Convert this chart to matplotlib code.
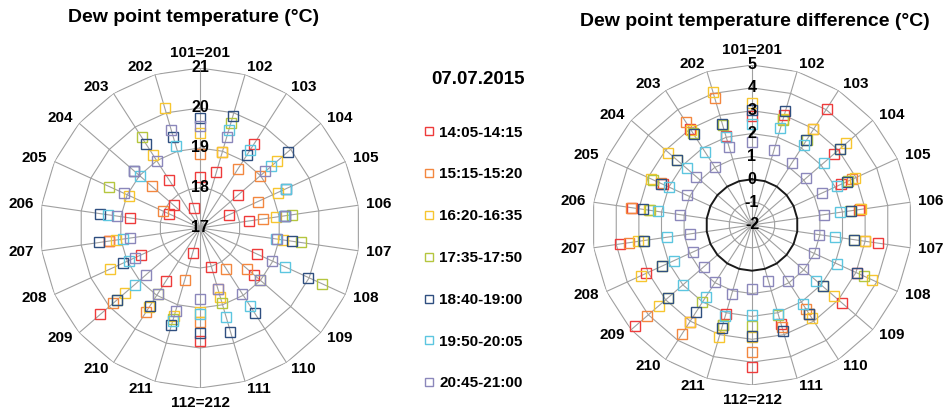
import numpy as np
import matplotlib
matplotlib.use('Agg')
import matplotlib.pyplot as plt

plt.rcParams['font.family'] = ['Liberation Sans', 'DejaVu Sans']
plt.rcParams['font.weight'] = 'bold'

# spokes, clockwise from the top
spokes = ['101=201', '102', '103', '104', '105', '106', '107', '108', '109', '110', '111',
          '112=212', '211', '210', '209', '208', '207', '206', '205', '204', '203', '202']
periods = ['14:05-14:15', '15:15-15:20', '16:20-16:35', '17:35-17:50',
           '18:40-19:00', '19:50-20:05', '20:45-21:00']
colors = ['#ee3b3b', '#f3873f', '#f7c62f', '#b5c63f', '#2f4f80', '#5cc6e0', '#8b87bb']
nan = np.nan

# dew point temperature (C)
dew_1405 = [18.28, 18.45, 19.51, 18.25, 17.81, 18.24, nan, 18.58, 18.78, nan, 18.02,
            19.82, 17.65, 18.58, 20.30, 18.61, 19.31, 18.78, 17.85, 17.87, 18.44, 17.53]
dew_1515 = [18.84, 18.97, 18.75, 18.98, 18.59, 18.58, nan, nan, 18.57, 18.21, 18.59,
            19.36, 18.36, 19.49, 19.88, nan, 19.31, nan, 18.03, 18.59, nan, nan]
dew_1620 = [19.37, 18.97, nan, 19.55, 19.13, 18.93, 19.10, nan, nan, nan, 18.79,
            19.10, 19.30, 19.35, 19.47, 19.47, 19.12, nan, 18.94, nan, 19.17, 20.13]
dew_1735 = [nan, 19.73, nan, nan, nan, 19.33, 19.54, 20.35, 18.98, nan, 18.96,
            nan, 19.36, 18.96, 19.73, nan, nan, nan, 19.49, nan, 19.70, nan]
dew_1840 = [19.74, 19.92, 19.17, 19.92, 19.37, 19.15, 19.33, 19.98, nan, 19.54, 19.70,
            19.63, 19.54, 19.32, 19.73, 19.12, 19.54, 19.53, nan, 19.17, 19.49, 19.36]
dew_1950 = [nan, 19.56, 19.33, 19.35, 19.37, 19.12, 18.93, 19.34, nan, 19.31, 19.33,
            19.15, 19.42, nan, 19.16, 18.96, 18.95, 19.32, nan, 18.97, nan, 19.14]
dew_2045 = [19.56, 19.36, nan, 19.16, nan, 19.15, 18.95, 18.99, 18.97, 18.96, 18.59,
            18.78, 19.17, 18.95, 18.78, 18.80, 18.78, 19.10, 19.10, 19.17, 18.98, 19.56]

# dew point temperature difference (C)
diff_1405 = [2.75, 3.00, 4.05, 2.73, 2.28, 2.75, 3.58, 3.03, 3.20, 2.63, 2.50,
             4.20, 2.05, 3.03, 4.75, 3.08, 3.84, 3.30, 2.30, nan, 3.00, 2.07]
diff_1515 = [nan, nan, 2.97, nan, 2.80, 2.78, 2.98, nan, nan, 2.38, 2.65,
             3.57, 2.55, 3.65, 4.07, nan, 3.44, 3.33, 2.40, nan, 3.34, 3.80]
diff_1620 = [3.32, 2.84, 2.97, 3.45, 2.97, 2.80, 3.00, 3.79, 2.75, 2.83, nan,
             2.92, 3.10, 3.05, 3.38, 3.33, 3.02, 2.55, 2.88, 2.84, 2.95, 4.06]
diff_1735 = [nan, 2.80, 2.43, 3.10, 2.62, 2.33, 2.52, 3.39, 2.10, 2.65, 2.10,
             2.42, 2.56, 2.02, 2.87, 2.33, 2.80, 2.50, 2.75, 2.36, 2.80, 2.58]
diff_1840 = [3.03, 3.18, 2.41, 3.09, 2.57, 2.36, 2.52, 3.06, 2.10, 2.65, 2.82,
             2.84, 2.68, 2.50, 2.89, 2.32, 2.78, 2.82, 2.36, 2.34, 2.71, 2.61]
diff_1950 = [2.41, 2.42, 2.18, 2.16, 2.10, 1.90, 1.66, 2.08, 1.71, 2.09, 2.07,
             1.94, 2.15, 1.72, 1.98, 1.76, 1.75, 2.16, 1.97, 1.79, 1.79, 2.03]
diff_2045 = [1.61, 1.43, 1.20, 1.12, 1.36, 1.20, 0.94, 0.99, 0.94, 0.93, 0.55,
             0.80, 1.16, 0.97, 0.79, 0.83, 0.76, 1.17, 1.15, 1.23, 1.00, 1.56]

dew = [dew_1405, dew_1515, dew_1620, dew_1735, dew_1840, dew_1950, dew_2045]
diff = [diff_1405, diff_1515, diff_1620, diff_1735, diff_1840, diff_1950, diff_2045]

theta = np.arange(len(spokes)) * 2 * np.pi / len(spokes)


def radar(ax, rmin, rmax, data, bold_ring=None):
    ax.set_theta_zero_location('N')
    ax.set_theta_direction(-1)
    ax.set_rlim(rmin, rmax)
    ax.set_xticks([])
    ax.set_yticks([])
    ax.grid(False)
    ax.spines['polar'].set_visible(False)
    ax.patch.set_alpha(0)
    tc = np.append(theta, theta[0])
    for t in theta:
        ax.plot([t, t], [rmin, rmax], color='#a0a0a0', lw=0.8, zorder=1)
    for v in range(rmin + 1, rmax + 1):
        if v == bold_ring:
            ax.plot(tc, [v] * len(tc), color='#1a1a1a', lw=1.4, zorder=2)
        else:
            ax.plot(tc, [v] * len(tc), color='#a0a0a0', lw=0.8, zorder=1)
    lines = []
    for vals, col, lab in zip(data, colors, periods):
        l, = ax.plot(theta, vals, ls='none', marker='s', ms=7, mfc='none',
                     mec=col, mew=1.0, label=lab, zorder=3, clip_on=False)
        lines.append(l)
    for v in range(rmin, rmax + 1):
        ax.text(0, v, str(v), ha='center', va='center', fontsize=11.5, zorder=5)
    rl = rmax + 0.05 * (rmax - rmin)
    for t, name in zip(theta, spokes):
        s, c = np.sin(t), np.cos(t)
        if abs(s) < 0.05:
            ha, va = 'center', ('bottom' if c > 0 else 'top')
        else:
            ha, va = ('left' if s > 0 else 'right'), 'center'
        ax.text(t, rl, name, ha=ha, va=va, fontsize=11, clip_on=False)
    return lines


fig = plt.figure(figsize=(9.49, 4.09), dpi=100)
ax1 = fig.add_axes([40 / 949, 21 / 409, 320 / 949, 320 / 409], projection='polar')
ax2 = fig.add_axes([592 / 949, 24 / 409, 320 / 949, 320 / 409], projection='polar')

handles = radar(ax1, 17, 21, dew)
radar(ax2, -2, 5, diff, bold_ring=0)

fig.text(194 / 949, 1 - 17 / 409, 'Dew point temperature (°C)', ha='center', va='center',
         fontsize=14)
fig.text(755 / 949, 1 - 21 / 409, 'Dew point temperature difference (°C)', ha='center',
         va='center', fontsize=14)

fig.text(478 / 949, 1 - 79 / 409, '07.07.2015', ha='center', va='center', fontsize=13.5)
fig.legend(handles, periods, loc='upper left', bbox_to_anchor=(417 / 949, 1 - 118 / 409),
           frameon=False, prop={'weight': 'bold', 'size': 11}, labelspacing=1.82,
           handlelength=0.6, handletextpad=0.35, borderpad=0, markerscale=0.85)

fig.savefig('out.png', dpi=100)
